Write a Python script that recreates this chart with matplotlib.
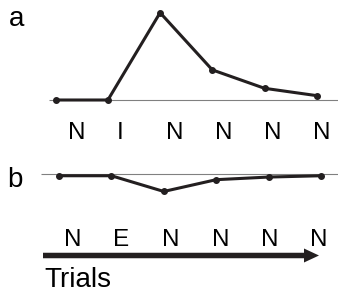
import numpy as np
import matplotlib
matplotlib.use("Agg")
import matplotlib.pyplot as plt
from matplotlib.patches import FancyArrow

plt.rcParams['font.family'] = ['Liberation Sans', 'DejaVu Sans']

# data: response per trial (peak of panel a = 1)
trials = np.arange(6)
values_a = [0.0, 0.0, 1.0, 0.345, 0.134, 0.05]
values_b = [-0.02, -0.02, -0.2, -0.065, -0.035, -0.02]
labels_a = ['N', 'I', 'N', 'N', 'N', 'N']
labels_b = ['N', 'E', 'N', 'N', 'N', 'N']

W, H = 338, 292
fig = plt.figure(figsize=(W / 100, H / 100), dpi=100)

line_col = '#231f20'
base_col = '#808080'
unit_px = 87.3  # pixels per value unit


def panel(top, bottom, x_first, x_step, y_zero, base_start):
    # axes spanning full width, pixel rows top..bottom
    ax = fig.add_axes([0, 1 - bottom / H, 1, (bottom - top) / H])
    ax.set_xlim(-x_first / x_step, (W - x_first) / x_step)
    ax.set_ylim(-(bottom - y_zero) / unit_px, (y_zero - top) / unit_px)
    ax.axis('off')
    ax.plot([(base_start - x_first) / x_step, (W - x_first) / x_step], [0, 0],
            color=base_col, lw=0.8, zorder=1, solid_capstyle='butt')
    return ax


ax_a = panel(0, 115, 55.7, 52.2, 100, 49)
ax_a.plot(trials, values_a, color=line_col, lw=2.2, marker='o', ms=4,
          zorder=2, solid_joinstyle='miter')

ax_b = panel(150, 215, 59, 52.4, 174, 41)
ax_b.plot(trials, values_b, color=line_col, lw=2.2, marker='o', ms=4,
          zorder=2, solid_joinstyle='miter')

# trial type labels
for i, lab in enumerate(labels_a):
    fig.text((68 + 49 * i) / W, 1 - 139 / H, lab, fontsize=17.5,
             ha='left', va='baseline', color='black')
for i, lab in enumerate(labels_b):
    fig.text((64 + 49.2 * i) / W, 1 - 246 / H, lab, fontsize=17.5,
             ha='left', va='baseline', color='black')

fig.text(9 / W, 1 - 26 / H, 'a', fontsize=20, ha='left', va='baseline')
fig.text(7 / W, 1 - 187 / H, 'b', fontsize=20, ha='left', va='baseline')

# arrow for trial direction
ov = fig.add_axes([0, 0, 1, 1])
ov.set_xlim(0, W)
ov.set_ylim(H, 0)
ov.axis('off')
ov.add_patch(FancyArrow(43, 255.5, 276, 0, width=5.5, head_width=14,
                        head_length=15, length_includes_head=True,
                        color=line_col, lw=0))
fig.text(44 / W, 1 - 287 / H, 'Trials', fontsize=20, ha='left', va='baseline')

fig.savefig('out.png', dpi=100)
